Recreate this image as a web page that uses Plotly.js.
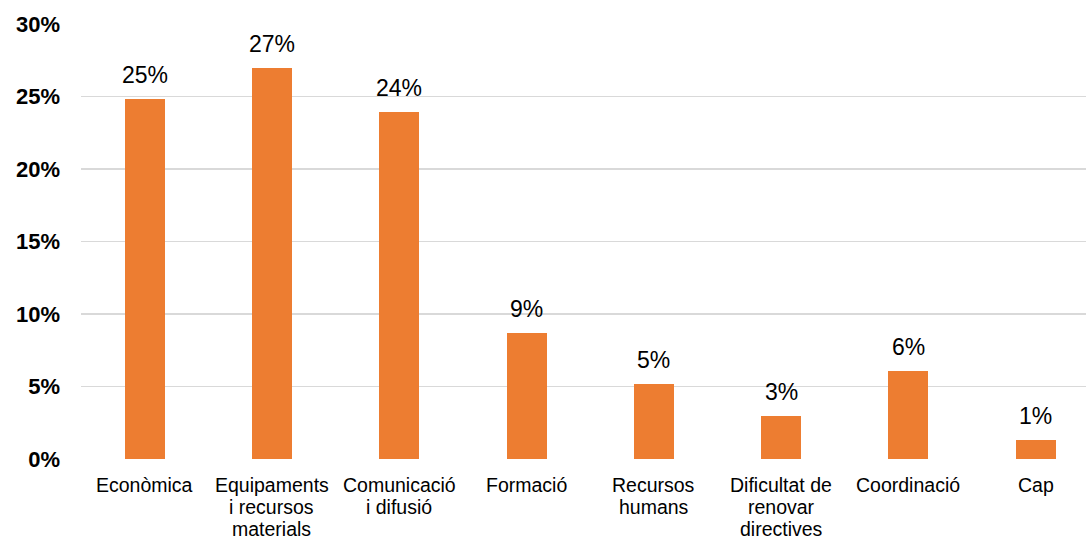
<!DOCTYPE html>
<html>
<head>
<meta charset="utf-8">
<script src="https://cdn.plot.ly/plotly-3.0.1.min.js"></script>
<style>
html,body{margin:0;padding:0;background:#fff;}
#chart{width:1086px;height:540px;}
</style>
</head>
<body>
<div id="chart"></div>
<script>
const categories = ["Econòmica", "Equipaments<br>i recursos<br>materials", "Comunicació<br>i difusió", "Formació", "Recursos<br>humans", "Dificultat de<br>renovar<br>directives", "Coordinació", "Cap"];
const values = [0.248, 0.270, 0.239, 0.087, 0.052, 0.030, 0.061, 0.013];
const valueLabels = ["25%", "27%", "24%", "9%", "5%", "3%", "6%", "1%"];
const yTickVals = [0, 0.05, 0.10, 0.15, 0.20, 0.25, 0.30];
const yTickText = ["0%", "5%", "10%", "15%", "20%", "25%", "30%"];

const FONT = "Liberation Sans, Arial, sans-serif";
const xIdx = categories.map((_, i) => i);

const trace = {
  type: "bar",
  x: xIdx,
  y: values,
  width: 0.314,
  marker: {color: "#ED7D31"},
  hoverinfo: "skip"
};

const annotations = values.map((v, i) => ({
  x: i, y: v, xref: "x", yref: "y",
  text: valueLabels[i],
  showarrow: false,
  yanchor: "bottom",
  yshift: 9,
  font: {family: FONT, size: 23, color: "#000"}
}));

// category labels: one annotation per line, tighter line spacing than Plotly's default
const LINE_GAP = 22, FIRST = 25.5;
categories.forEach((c, i) => {
  c.split("<br>").forEach((line, k) => {
    annotations.push({
      x: i, y: 0, xref: "x", yref: "paper",
      text: line,
      showarrow: false,
      borderpad: 0,
      xanchor: "center", yanchor: "middle",
      yshift: -(FIRST + k * LINE_GAP),
      font: {family: FONT, size: 19.5, color: "#000"}
    });
  });
});

const layout = {
  width: 1086, height: 540,
  margin: {l: 81, r: 0, t: 24, b: 81, pad: 0},
  paper_bgcolor: "#fff", plot_bgcolor: "#fff",
  showlegend: false,
  bargap: 0,
  xaxis: {
    range: [-0.5, 7.395],
    tickvals: xIdx,
    showticklabels: false,
    showgrid: false, zeroline: false, showline: false,
    ticks: "",
    fixedrange: true
  },
  yaxis: {
    range: [0, 0.30],
    tickvals: yTickVals,
    ticktext: yTickText,
    showgrid: true, gridcolor: "#D9D9D9", gridwidth: 1.5,
    zeroline: false, showline: false,
    ticks: "",
    ticklabelstandoff: 20,
    tickfont: {family: FONT, size: 22, color: "#000", weight: "bold"},
    fixedrange: true
  },
  annotations: annotations
};

Plotly.newPlot("chart", [trace], layout, {displayModeBar: false, staticPlot: true});
</script>
</body>
</html>
